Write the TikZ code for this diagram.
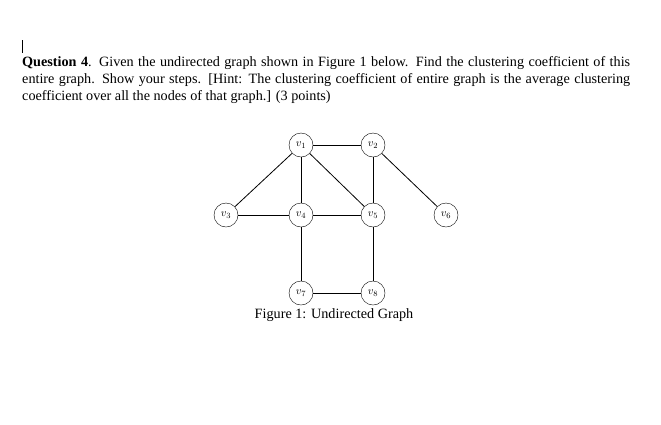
\documentclass[tikz,border=0pt]{standalone}
\usepackage{fontspec}
\setmainfont{Liberation Serif}
\usepackage{amsmath}
\tikzset{vert/.style={circle, draw=black, minimum size=24pt, inner sep=0pt, font=\fontsize{11}{11}\selectfont},
         edge/.style={line width=0.8pt}}
\begin{document}
\begin{tikzpicture}[x=1pt, y=-1pt]
    \useasboundingbox (0,0) rectangle (661,424);
    \draw [line width=0.6pt] (22,40) -- (22,53);
    \node (q) [anchor=north west, inner sep=0pt, text width=608pt, align=justify, font=\fontsize{14.2}{17}\selectfont] at (22,56)
        {\textbf{Question 4}. Given the undirected graph shown in Figure 1 below. Find the clustering coefficient of this\linebreak
        entire graph. Show your steps. [Hint: The clustering coefficient of entire graph is the average clustering\linebreak
        coefficient over all the nodes of that graph.] (3 points)};
    \node (1) [vert] at (301,145) {$v_1$};
    \node (2) [vert] at (373,145) {$v_2$};
    \node (3) [vert] at (226,215) {$v_3$};
    \node (4) [vert] at (301,215) {$v_4$};
    \node (5) [vert] at (373,215) {$v_5$};
    \node (6) [vert] at (446,215) {$v_6$};
    \node (7) [vert] at (301,293) {$v_7$};
    \node (8) [vert] at (373,293) {$v_8$};
    \draw [edge] (1) to (2);
    \draw [edge] (1) to (3);
    \draw [edge] (1) to (4);
    \draw [edge] (1) to (5);
    \draw [edge] (2) to (5);
    \draw [edge] (2) to (6);
    \draw [edge] (3) to (4);
    \draw [edge] (4) to (5);
    \draw [edge] (4) to (7);
    \draw [edge] (5) to (8);
    \draw [edge] (7) to (8);
    \node (cap) [font=\fontsize{14.2}{17}\selectfont] at (334,315) {Figure 1: Undirected Graph};
\end{tikzpicture}
\end{document}
